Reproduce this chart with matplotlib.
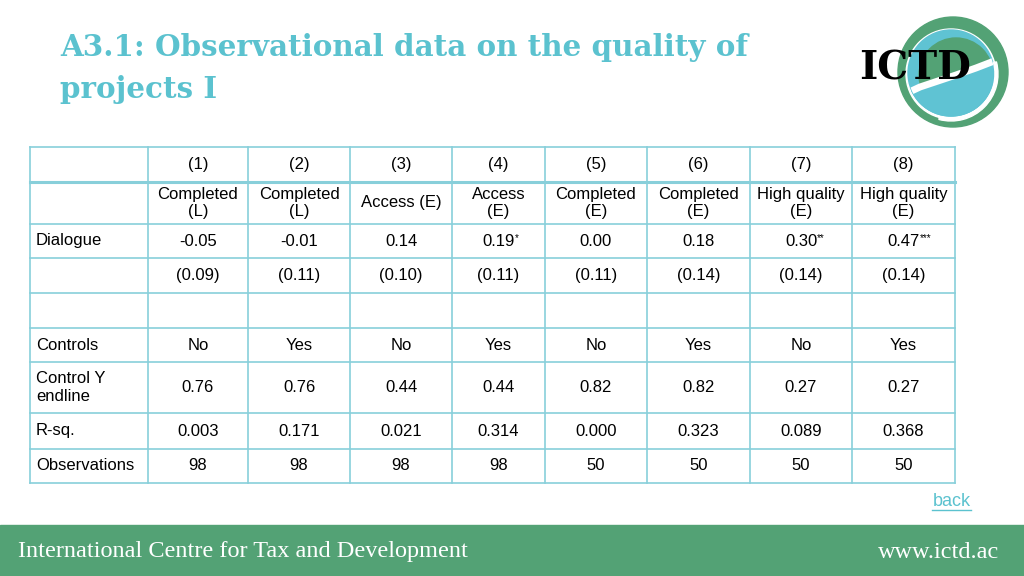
import matplotlib.pyplot as plt
from matplotlib.patches import Circle, Rectangle, Wedge, Polygon

# table content
col_nums = ["(1)", "(2)", "(3)", "(4)", "(5)", "(6)", "(7)", "(8)"]
outcomes = ["Completed\n(L)", "Completed\n(L)", "Access (E)", "Access\n(E)",
            "Completed\n(E)", "Completed\n(E)", "High quality\n(E)", "High quality\n(E)"]
dialogue = ["-0.05", "-0.01", "0.14", "0.19", "0.00", "0.18", "0.30", "0.47"]
stars = ["", "", "", "*", "", "", "**", "***"]
std_err = ["(0.09)", "(0.11)", "(0.10)", "(0.11)", "(0.11)", "(0.14)", "(0.14)", "(0.14)"]
controls = ["No", "Yes", "No", "Yes", "No", "Yes", "No", "Yes"]
control_y = ["0.76", "0.76", "0.44", "0.44", "0.82", "0.82", "0.27", "0.27"]
r_sq = ["0.003", "0.171", "0.021", "0.314", "0.000", "0.323", "0.089", "0.368"]
n_obs = ["98", "98", "98", "98", "50", "50", "50", "50"]

rows = [
    ("", col_nums),
    ("", outcomes),
    ("Dialogue", dialogue),
    ("", std_err),
    ("", [""] * 8),
    ("Controls", controls),
    ("Control Y\nendline", control_y),
    ("R-sq.", r_sq),
    ("Observations", n_obs),
]

# grid positions in pixels
xs = [30, 148, 248, 350, 452, 545, 647, 750, 852, 955]
ys = [147, 182, 224, 258, 293, 328, 362, 413, 449, 483]

teal = "#5bc2cf"
grid_c = "#88cfda"
green = "#53a275"
blue = "#5fc3d3"
sans = ["Liberation Sans", "DejaVu Sans"]
serif = ["DejaVu Serif"]

fig = plt.figure(figsize=(10.24, 5.76), dpi=100)
ax = fig.add_axes([0, 0, 1, 1])
ax.set_xlim(0, 1024)
ax.set_ylim(576, 0)
ax.axis("off")

# title
ax.text(60, 48, "A3.1: Observational data on the quality of", color=teal,
        fontsize=21.2, fontweight="bold", family=serif, va="center", ha="left")
ax.text(60, 90, "projects I", color=teal,
        fontsize=21.2, fontweight="bold", family=serif, va="center", ha="left")

# logo
cx, cy = 953, 72
ax.add_patch(Circle((cx, cy), 55, color=green, zorder=2))
ax.add_patch(Circle((cx - 2, cy + 2), 45, color="white", zorder=3))
ax.add_patch(Circle((cx - 2, cy + 1), 43, color=blue, zorder=4))
ax.add_patch(Circle((cx + 3, cy + 3), 37, color=green, zorder=5))
swoosh = [(905, 94), (920, 87), (938, 81), (956, 75), (976, 68), (1002, 58)]
below = Polygon(swoosh + [(1002, 140), (905, 140)], closed=True, transform=ax.transData)
low = Circle((cx - 2, cy + 1), 43, color=blue, zorder=6)
ax.add_patch(low)
low.set_clip_path(below)
band = ax.plot([p[0] for p in swoosh], [p[1] for p in swoosh], color="white",
               lw=5, zorder=7, solid_capstyle="butt")[0]
band.set_clip_path(Circle((cx - 2, cy + 1), 43, transform=ax.transData))
ax.add_patch(Wedge((cx - 2, cy + 2), 47, -15, 105, width=3, color="white", zorder=8))
ax.text(915, 69, "ICTD", family=serif, fontsize=28, fontweight="bold", color="black",
        ha="center", va="center", zorder=9)

# grid lines
for x in xs:
    ax.plot([x, x], [ys[0], ys[-1]], color=grid_c, lw=1.2, zorder=1)
for i, y in enumerate(ys):
    ax.plot([xs[0], xs[-1]], [y, y], color=grid_c, lw=2.2 if i == 1 else 1.2, zorder=1)

# cells
for r, (label, vals) in enumerate(rows):
    yc = (ys[r] + ys[r + 1]) / 2
    if label:
        ax.text(36, yc, label, family=sans, fontsize=12, ha="left", va="center",
                linespacing=1.2)
    for c, v in enumerate(vals):
        xc = (xs[c + 1] + xs[c + 2]) / 2
        t = ax.text(xc, yc, v, family=sans, fontsize=12, ha="center", va="center",
                    linespacing=1.2)
        if r == 2 and stars[c]:
            ax.annotate(stars[c], xy=(1.0, 1.0), xycoords=t, family=sans,
                        fontsize=7, ha="left", va="top")

# back link
ax.text(971, 501, "back", family=sans, fontsize=13, color=teal, ha="right", va="center")
ax.plot([932, 971], [510, 510], color=teal, lw=1)

# footer
ax.add_patch(Rectangle((0, 525), 1024, 51, color=green, zorder=1))
ax.text(18, 552, "International Centre for Tax and Development", family=["Liberation Serif"],
        fontsize=17.5, color="white", ha="left", va="center", zorder=2)
ax.text(999, 552, "www.ictd.ac", family=["Liberation Serif"],
        fontsize=17.5, color="white", ha="right", va="center", zorder=2)

fig.savefig("out.png", dpi=100)
